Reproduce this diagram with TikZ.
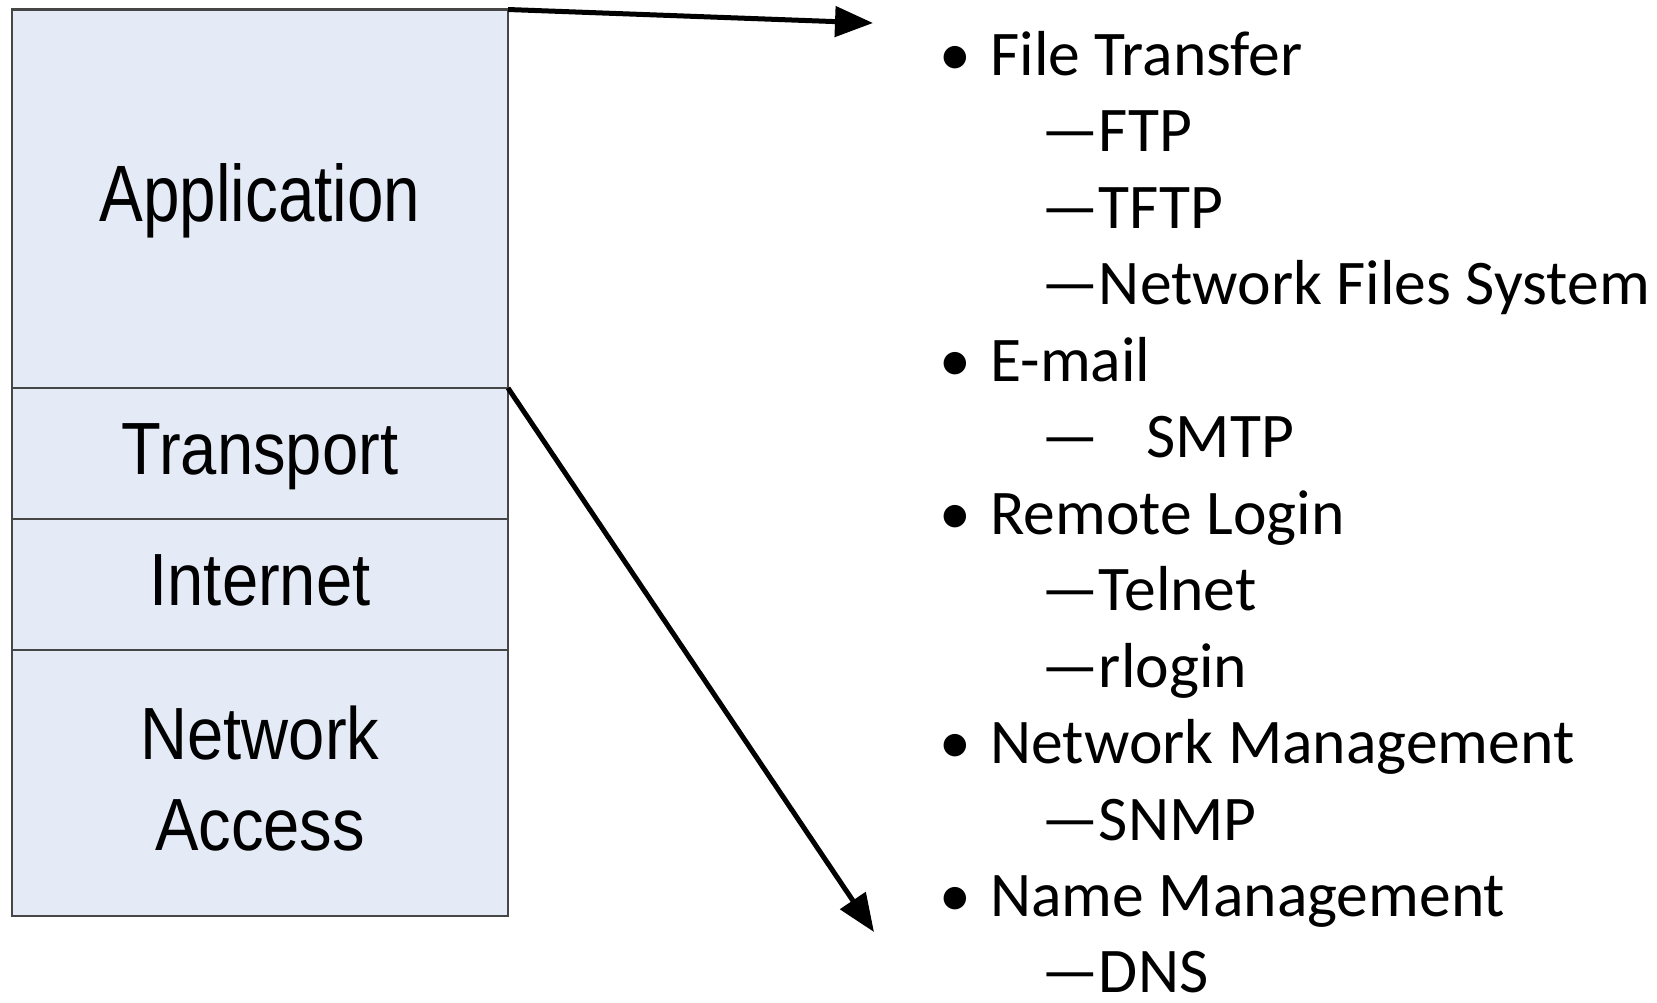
\documentclass[tikz,border=0pt]{standalone}
\usepackage{fontspec}
\setmainfont{Carlito}
\newfontfamily\arialf{Liberation Sans}
\usetikzlibrary{arrows.meta}
\definecolor{layerfill}{RGB}{229,235,246}
\definecolor{layerline}{RGB}{70,70,70}
\tikzset{
  layer/.style={draw=layerline, line width=1.1pt, fill=layerfill, anchor=north west,
    minimum width=248.2pt, inner sep=0pt, outer sep=0pt},
  bigl/.style={anchor=base, inner sep=0pt, font=\arialf\fontsize{40}{48}\selectfont},
  midl/.style={anchor=base, inner sep=0pt, font=\arialf\fontsize{37}{44}\selectfont},
  item/.style={anchor=base west, inner sep=0pt, font=\fontsize{31.8}{38}\selectfont},
  bul/.style={anchor=base, inner sep=0pt, font=\fontsize{31.8}{38}\selectfont},
  conn/.style={line width=2.5pt, -{Triangle[length=19pt,width=15pt]}}
}
\begin{document}
\begin{tikzpicture}[x=0.5pt,y=-0.5pt]
\useasboundingbox (0,0) rectangle (1657,1002);
% layer stack
\node[layer, minimum height=189.25pt] (app) at (11.6,9.5) {};
\node[layer, minimum height=65.5pt] (trans) at (app.south west) {};
\node[layer, minimum height=65.5pt] (inet) at (trans.south west) {};
\node[layer, minimum height=133pt] (acc) at (inet.south west) {};
% layer labels
\node[bigl] (tapp) at (260,221) {\scalebox{0.82}[1]{Application}};
\node[midl] (ttrans) at (260,474) {\scalebox{0.88}[1]{Transport}};
\node[midl] (tinet) at (260,605) {\scalebox{0.88}[1]{Internet}};
\node[midl] (tnet1) at (260,759.5) {\scalebox{0.88}[1]{Network}};
\node[midl] (tnet2) at (260,850) {\scalebox{0.88}[1]{Access}};
% arrows
\coordinate (tip1) at (873,23);
\coordinate (tip2) at (874,932);
\draw[conn] (app.north east) -- (tip1);
\draw[conn] (app.south east) -- (tip2);
% list
\node[bul] (b0) at (955,75) {•};
\node[item] (r0) at (990,75) {File Transfer};
\node[item] (r1) at (1041,151.5) {—FTP};
\node[item] (r2) at (1041,228) {—TFTP};
\node[item] (r3) at (1041,304.5) {—Network Files System};
\node[bul] (b4) at (955,381) {•};
\node[item] (r4) at (990,381) {E-mail};
\node[item] (r5) at (1041,457.5) {—\hspace{0.75em}SMTP};
\node[bul] (b6) at (955,534) {•};
\node[item] (r6) at (990,534) {Remote Login};
\node[item] (r7) at (1041,610.5) {—Telnet};
\node[item] (r8) at (1041,687) {—rlogin};
\node[bul] (b9) at (955,763.5) {•};
\node[item] (r9) at (990,763.5) {Network Management};
\node[item] (r10) at (1041,840) {—SNMP};
\node[bul] (b11) at (955,916.5) {•};
\node[item] (r11) at (990,916.5) {Name Management};
\node[item] (r12) at (1041,992) {—DNS};
\end{tikzpicture}
\end{document}
